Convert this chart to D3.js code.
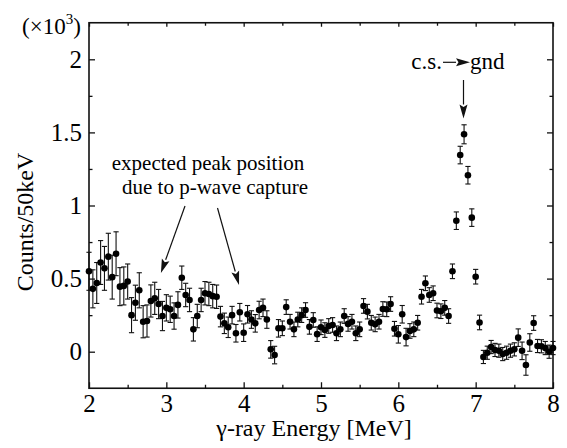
<!DOCTYPE html>
<html>
<head>
<meta charset="utf-8">
<script src="https://cdn.jsdelivr.net/npm/d3@7"></script>
<style>
  html, body { margin: 0; padding: 0; background: #fff; }
  svg { display: block; }
</style>
</head>
<body>
<svg id="chart" width="567" height="448"></svg>
<script>
// ---- data (counts in units of 10^3 per 50 keV) ----
const energies = [
  2.00,2.05,2.10,2.15,2.20,2.25,2.30,2.35,2.40,2.45,
  2.50,2.55,2.60,2.65,2.70,2.75,2.80,2.85,2.90,2.95,
  3.00,3.05,3.10,3.15,3.20,3.25,3.30,3.35,3.40,3.45,
  3.50,3.55,3.60,3.65,3.70,3.75,3.80,3.85,3.90,3.95,
  4.00,4.05,4.10,4.15,4.20,4.25,4.30,4.35,4.40,4.45,
  4.50,4.55,4.60,4.65,4.70,4.75,4.80,4.85,4.90,4.95,
  5.00,5.05,5.10,5.15,5.20,5.25,5.30,5.35,5.40,5.45,
  5.50,5.55,5.60,5.65,5.70,5.75,5.80,5.85,5.90,5.95,
  6.00,6.05,6.10,6.15,6.20,6.25,6.30,6.35,6.40,6.45,
  6.50,6.55,6.60,6.65,6.70,6.75,6.80,6.85,6.90,6.95,
  7.00,7.05,7.10,7.15,7.20,7.25,7.30,7.35,7.40,7.45,
  7.50,7.55,7.60,7.65,7.70,7.75,7.80,7.85,7.90,7.95,
  8.00
];
const counts = [
  0.550,0.430,0.470,0.610,0.570,0.650,0.510,0.670,0.445,0.450,
  0.480,0.250,0.335,0.420,0.205,0.210,0.347,0.365,0.326,0.244,
  0.300,0.290,0.244,0.320,0.506,0.388,0.354,0.153,0.244,0.354,
  0.400,0.395,0.380,0.376,0.240,0.194,0.167,0.250,0.126,0.270,
  0.130,0.256,0.220,0.194,0.285,0.300,0.220,0.016,-0.023,0.160,
  0.160,0.305,0.205,0.153,0.220,0.250,0.285,0.170,0.217,0.120,
  0.167,0.148,0.176,0.183,0.126,0.153,0.244,0.190,0.205,0.126,
  0.153,0.313,0.274,0.198,0.187,0.205,0.292,0.290,0.326,0.157,
  0.119,0.256,0.100,0.142,0.153,0.198,0.376,0.468,0.388,0.400,
  0.282,0.277,0.300,0.244,0.550,0.896,1.345,1.487,1.207,0.917,
  0.513,0.200,-0.036,-0.007,0.032,0.012,0.007,-0.016,-0.007,0.007,
  0.016,0.096,0.006,-0.091,0.063,0.196,0.039,0.037,0.025,0.000,
  0.025
];
const errors = [
  0.13,0.13,0.14,0.15,0.15,0.16,0.15,0.15,0.13,0.13,
  0.12,0.12,0.12,0.12,0.11,0.11,0.11,0.11,0.10,0.10,
  0.09,0.09,0.09,0.09,0.08,0.08,0.08,0.08,0.08,0.08,
  0.08,0.08,0.08,0.08,0.07,0.07,0.07,0.06,0.06,0.06,
  0.06,0.06,0.06,0.06,0.06,0.06,0.06,0.06,0.06,0.06,
  0.05,0.05,0.05,0.05,0.05,0.05,0.05,0.05,0.05,0.05,
  0.05,0.05,0.05,0.05,0.05,0.05,0.05,0.05,0.05,0.05,
  0.05,0.05,0.05,0.05,0.05,0.05,0.05,0.05,0.05,0.05,
  0.06,0.06,0.06,0.05,0.05,0.05,0.05,0.05,0.05,0.05,
  0.05,0.05,0.05,0.05,0.05,0.06,0.06,0.065,0.06,0.06,
  0.05,0.05,0.045,0.045,0.045,0.045,0.045,0.045,0.045,0.045,
  0.045,0.06,0.06,0.07,0.06,0.05,0.045,0.045,0.045,0.045,
  0.045
];
const xTicks = [2, 3, 4, 5, 6, 7, 8];
const xMinorTicks = [2.5, 3.5, 4.5, 5.5, 6.5, 7.5];
const yTicks = [0, 0.5, 1, 1.5, 2];
const yTickLabels = ["0", "0.5", "1", "1.5", "2"];
const yMinorTicks = [0.25, 0.75, 1.25, 1.75];
const xTitle = "γ-ray Energy [MeV]";
const yTitle = "Counts/50keV";
const annotationLines = ["expected peak position", "due to p-wave capture"];
const pwaveEnergies = [2.93, 3.94];   // arrow tips (MeV)

// ---- layout ----
const SERIF = "Liberation Serif, Times New Roman, serif";
const L = 89, R = 553, T = 22.75, B = 388.25;
const x = d3.scaleLinear().domain([2, 8]).range([L, R]);
const y = d3.scaleLinear().domain([-0.25, 2.25]).range([B, T]);
const svg = d3.select("#chart").attr("font-family", SERIF);
const FS = 24, TFS = 25;

function txt(xp, yp, s, size, anchor) {
  return svg.append("text").attr("x", xp).attr("y", yp).attr("font-size", size)
    .attr("font-family", SERIF).attr("fill", "#000")
    .attr("text-anchor", anchor || "start").text(s);
}

// axes (ticks pointing inward)
function styleAxis(g) {
  g.attr("font-family", SERIF).attr("font-size", TFS);
  g.select(".domain").remove();
  g.selectAll(".tick line").attr("stroke", "#111").attr("stroke-width", 1.3);
  g.selectAll(".tick text").attr("font-size", TFS).attr("fill", "#000").attr("font-family", SERIF);
}
svg.append("g").attr("transform", `translate(0,${B})`)
  .call(d3.axisBottom(x).tickValues(xTicks).tickSize(-6).tickSizeOuter(0).tickPadding(6).tickFormat(d3.format("d")))
  .call(styleAxis);
svg.append("g").attr("transform", `translate(0,${B})`)
  .call(d3.axisBottom(x).tickValues(xMinorTicks).tickSize(-3.5).tickSizeOuter(0).tickFormat(""))
  .call(styleAxis);
svg.append("g").attr("transform", `translate(0,${T})`)
  .call(d3.axisTop(x).tickValues(xTicks).tickSize(-4).tickSizeOuter(0).tickFormat(""))
  .call(styleAxis);
svg.append("g").attr("transform", `translate(0,${T})`)
  .call(d3.axisTop(x).tickValues(xMinorTicks).tickSize(-3).tickSizeOuter(0).tickFormat(""))
  .call(styleAxis);
svg.append("g").attr("transform", `translate(${L},0)`)
  .call(d3.axisLeft(y).tickValues(yTicks).tickSize(-6).tickSizeOuter(0).tickPadding(7)
        .tickFormat((d, i) => yTickLabels[i]))
  .call(styleAxis);
svg.append("g").attr("transform", `translate(${L},0)`)
  .call(d3.axisLeft(y).tickValues(yMinorTicks).tickSize(-3.5).tickSizeOuter(0).tickFormat(""))
  .call(styleAxis);
svg.append("g").attr("transform", `translate(${R},0)`)
  .call(d3.axisRight(y).tickValues(yTicks).tickSize(-6).tickSizeOuter(0).tickFormat(""))
  .call(styleAxis);
svg.append("g").attr("transform", `translate(${R},0)`)
  .call(d3.axisRight(y).tickValues(yMinorTicks).tickSize(-3.5).tickSizeOuter(0).tickFormat(""))
  .call(styleAxis);

// frame
svg.append("rect").attr("x", L).attr("y", T).attr("width", R - L).attr("height", B - T)
  .attr("fill", "none").attr("stroke", "#111").attr("stroke-width", 1.6);

// multiplier label
const mult = txt(22, 34, "", 23);
mult.append("tspan").text("(×10");
mult.append("tspan").attr("font-size", 15).attr("dy", -10).text("3");
mult.append("tspan").attr("dy", 10).text(")");

// axis titles
txt(314, 436, xTitle, FS, "middle");
txt(0, 0, yTitle, FS, "middle").attr("x", null).attr("y", null)
  .attr("transform", "translate(33,222) rotate(-90)");

// data points with error bars
const pts = energies.map((e, i) => ({ e, c: counts[i], s: errors[i] }));
const eb = svg.append("g").attr("stroke", "#111").attr("stroke-width", 1.1);
eb.selectAll("line.v").data(pts).join("line").attr("class", "v")
  .attr("x1", d => x(d.e)).attr("x2", d => x(d.e))
  .attr("y1", d => y(d.c - d.s)).attr("y2", d => y(d.c + d.s));
eb.selectAll("line.t").data(pts).join("line").attr("class", "t")
  .attr("x1", d => x(d.e) - 2.6).attr("x2", d => x(d.e) + 2.6)
  .attr("y1", d => y(d.c + d.s)).attr("y2", d => y(d.c + d.s));
eb.selectAll("line.b").data(pts).join("line").attr("class", "b")
  .attr("x1", d => x(d.e) - 2.6).attr("x2", d => x(d.e) + 2.6)
  .attr("y1", d => y(d.c - d.s)).attr("y2", d => y(d.c - d.s));
svg.append("g").selectAll("circle").data(pts).join("circle")
  .attr("cx", d => x(d.e)).attr("cy", d => y(d.c)).attr("r", 3.3).attr("fill", "#000");

// arrow helper
function arrow(x1, y1, x2, y2, headLen, headW) {
  const dx = x2 - x1, dy = y2 - y1, len = Math.hypot(dx, dy);
  const ux = dx / len, uy = dy / len, px = -uy, py = ux;
  const bx = x2 - ux * headLen, by = y2 - uy * headLen;
  svg.append("line").attr("x1", x1).attr("y1", y1).attr("x2", bx).attr("y2", by)
    .attr("stroke", "#111").attr("stroke-width", 1.2);
  svg.append("path")
    .attr("d", `M${x2},${y2}L${bx + px * headW / 2},${by + py * headW / 2}L${bx + ux * 2.5},${by + uy * 2.5}L${bx - px * headW / 2},${by - py * headW / 2}Z`)
    .attr("fill", "#111");
}

// p-wave annotation
txt(208, 170, annotationLines[0], 21, "middle");
txt(215, 194, annotationLines[1], 21, "middle");
arrow(185, 206, x(pwaveEnergies[0]), 273, 14, 8);
arrow(217.5, 208, x(pwaveEnergies[1]), 285, 14, 8);

// c.s. -> gnd annotation
txt(442, 69, "c.s.", 23, "end");
arrow(443, 62.3, 470, 62.3, 14, 8);
txt(470, 69, "gnd", 23);
arrow(463.5, 80, 463.5, 118.5, 14, 8);
</script>
</body>
</html>
